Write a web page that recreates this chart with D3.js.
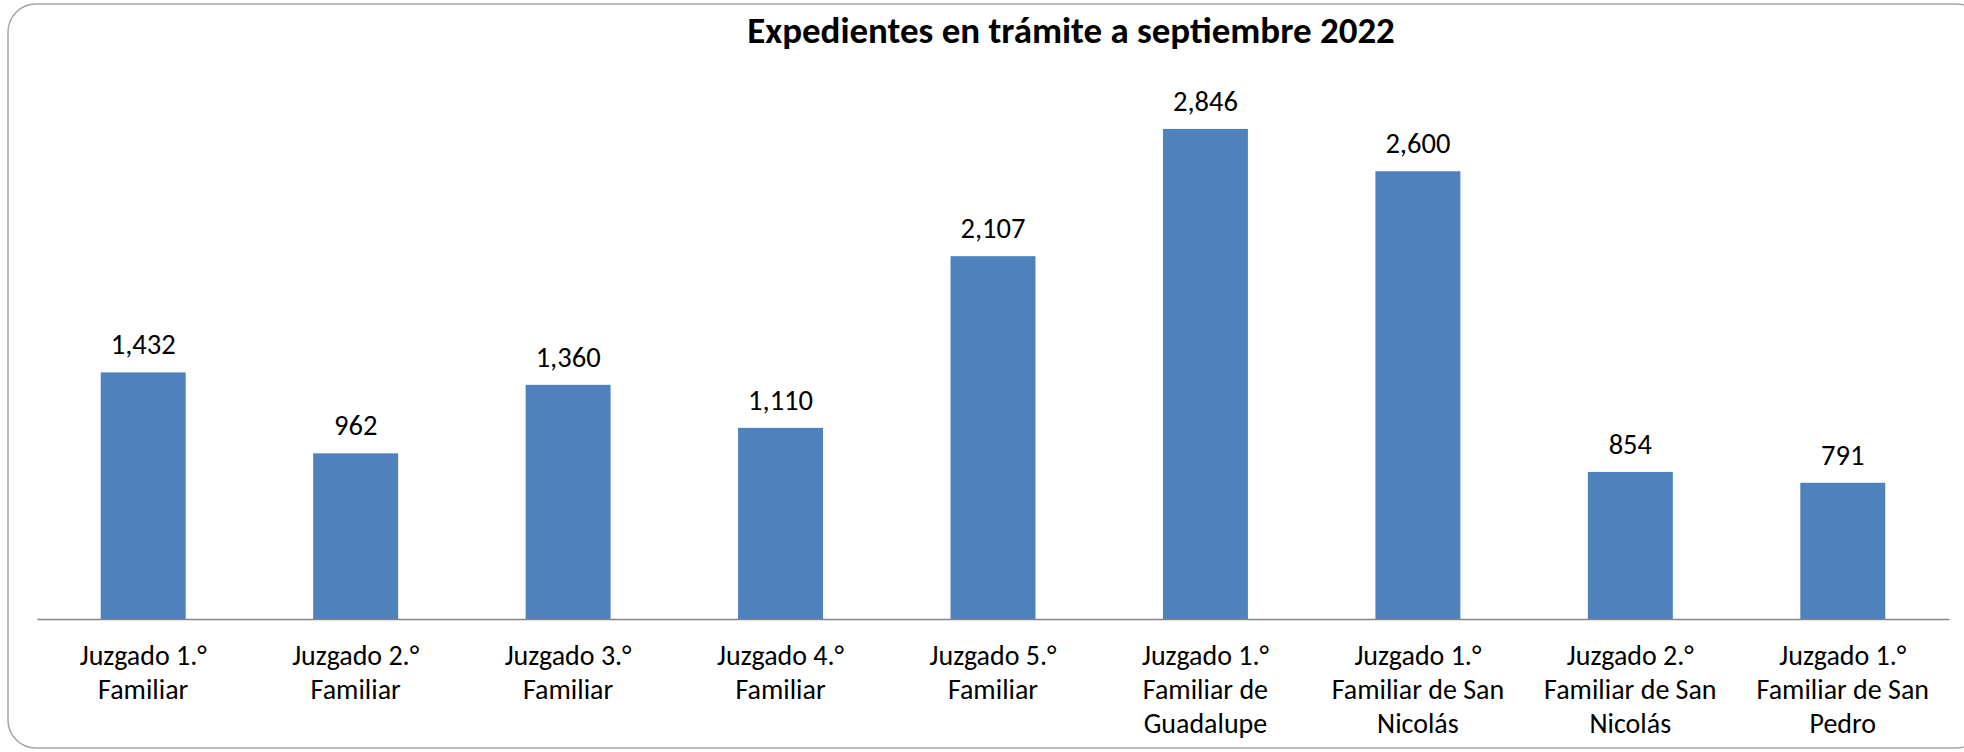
<!DOCTYPE html>
<html lang="es">
<head>
<meta charset="utf-8">
<script src="https://d3js.org/d3.v7.min.js"></script>
<style>
  body { margin: 0; background: #fff; }
  text { font-family: Carlito, Lato, "Liberation Sans", sans-serif; fill: #000; }
</style>
</head>
<body>
<script>
// chart data
const categories = [
  "Juzgado 1.° Familiar",
  "Juzgado 2.° Familiar",
  "Juzgado 3.° Familiar",
  "Juzgado 4.° Familiar",
  "Juzgado 5.° Familiar",
  "Juzgado 1.° Familiar de Guadalupe",
  "Juzgado 1.° Familiar de San Nicolás",
  "Juzgado 2.° Familiar de San Nicolás",
  "Juzgado 1.° Familiar de San Pedro"
];
// wrapped tick labels, as they appear under each bar
const tickLines = [
  ["Juzgado 1.°", "Familiar"],
  ["Juzgado 2.°", "Familiar"],
  ["Juzgado 3.°", "Familiar"],
  ["Juzgado 4.°", "Familiar"],
  ["Juzgado 5.°", "Familiar"],
  ["Juzgado 1.°", "Familiar de", "Guadalupe"],
  ["Juzgado 1.°", "Familiar de San", "Nicolás"],
  ["Juzgado 2.°", "Familiar de San", "Nicolás"],
  ["Juzgado 1.°", "Familiar de San", "Pedro"]
];
const values = [1432, 962, 1360, 1110, 2107, 2846, 2600, 854, 791];
const title = "Expedientes en trámite a septiembre 2022";

const W = 1964, H = 752;
const plotLeft = 37, plotRight = 1949, plotBottom = 619, plotTop = 102.4;

const svg = d3.select("body").append("svg")
    .attr("width", W)
    .attr("height", H);

// pick a font size so a sample string gets the width it has in the original
function fitSize(sample, weight, targetWidth) {
    const t = svg.append("text")
        .attr("font-size", 100)
        .attr("font-weight", weight)
        .text(sample);
    const w = t.node().getComputedTextLength();
    t.remove();
    return 100 * targetWidth / w;
}
const titleSize = fitSize(title, "bold", 648);
const valueSize = fitSize("1,432", "normal", 65);
const tickSize = fitSize("Juzgado 1.°", "normal", 127);

// chart area border (runs off the right edge like the original)
svg.append("rect")
    .attr("x", 8).attr("y", 4)
    .attr("width", 1976).attr("height", 744)
    .attr("rx", 28).attr("ry", 28)
    .attr("fill", "#fff")
    .attr("stroke", "#a6a6a6")
    .attr("stroke-width", 1.5);

const x = d3.scaleBand()
    .domain(categories)
    .range([plotLeft, plotRight])
    .paddingInner(0.6)
    .paddingOuter(0.3);

const y = d3.scaleLinear()
    .domain([0, 3000])
    .range([plotBottom, plotTop]);

// bars
svg.append("g").selectAll("rect")
    .data(values)
    .join("rect")
    .attr("x", (d, i) => x(categories[i]))
    .attr("y", d => y(d))
    .attr("width", x.bandwidth())
    .attr("height", d => y(0) - y(d))
    .attr("fill", "#4f81bd");

// value labels
const fmt = d3.format(",");
svg.append("g").selectAll("text")
    .data(values)
    .join("text")
    .attr("x", (d, i) => x(categories[i]) + x.bandwidth() / 2)
    .attr("y", d => y(d) - 18)
    .attr("text-anchor", "middle")
    .attr("font-size", valueSize)
    .text(d => fmt(d));

// x axis
const xAxis = svg.append("g")
    .attr("transform", `translate(0,${plotBottom})`)
    .call(d3.axisBottom(x).tickSize(0).tickFormat(""));
xAxis.select(".domain")
    .attr("stroke", "#868686")
    .attr("stroke-width", 1.5);

xAxis.selectAll(".tick").each(function(d, i) {
    const t = d3.select(this).append("text")
        .attr("text-anchor", "middle")
        .attr("font-size", tickSize)
        .attr("fill", "#000");
    tickLines[i].forEach((line, j) => {
        t.append("tspan")
            .attr("x", 0)
            .attr("y", 46 + j * 34)
            .text(line);
    });
});

// title
svg.append("text")
    .attr("x", 1071)
    .attr("y", 43)
    .attr("text-anchor", "middle")
    .attr("font-size", titleSize)
    .attr("font-weight", "bold")
    .text(title);
</script>
</body>
</html>
